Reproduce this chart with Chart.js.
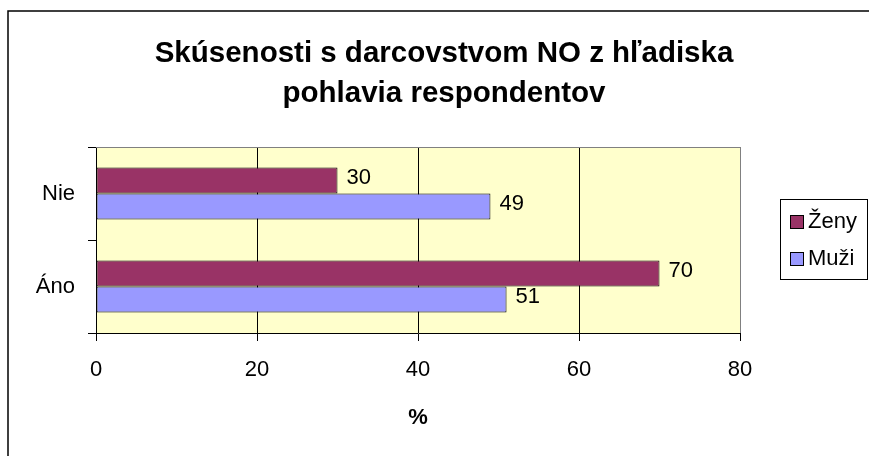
<!DOCTYPE html>
<html>
<head>
<meta charset="utf-8">
<script src="https://cdn.jsdelivr.net/npm/chart.js@4"></script>
<style>
  html, body { margin: 0; padding: 0; background: #fff; }
  #wrap { width: 869px; height: 456px; }
</style>
</head>
<body>
<div id="wrap"><canvas id="c" width="869" height="456"></canvas></div>
<script>
const categories = ['Nie', 'Áno'];
const seriesNames = ['Ženy', 'Muži'];
const zenyValues = [30, 70];
const muziValues = [49, 51];
const xTickValues = [0, 20, 40, 60, 80];
const titleLines = ['Skúsenosti s darcovstvom NO z hľadiska', 'pohlavia respondentov'];
const xAxisTitle = '%';

const FONT = "'Liberation Sans', Arial, sans-serif";
Chart.defaults.font.family = FONT;
Chart.defaults.color = '#000';

const bgPlugin = {
  id: 'bg',
  beforeDraw(chart) {
    const { ctx, chartArea: a } = chart;
    ctx.save();
    ctx.fillStyle = '#ffffff';
    ctx.fillRect(0, 0, chart.width, chart.height);
    ctx.fillStyle = '#FFFFCC';
    ctx.fillRect(a.left, a.top, a.right - a.left, a.bottom - a.top);
    ctx.restore();
  },
  afterDatasetsDraw(chart) {
    const { ctx, chartArea: a } = chart;
    ctx.save();
    // plot-area top border (gray)
    ctx.strokeStyle = '#808080';
    ctx.lineWidth = 1;
    ctx.beginPath();
    ctx.moveTo(a.left, Math.round(a.top) + 0.5);
    ctx.lineTo(a.right, Math.round(a.top) + 0.5);
    ctx.stroke();
    // data labels
    ctx.fillStyle = '#000';
    ctx.font = '22px ' + FONT;
    ctx.textAlign = 'left';
    ctx.textBaseline = 'middle';
    chart.data.datasets.forEach((ds, di) => {
      const meta = chart.getDatasetMeta(di);
      meta.data.forEach((el, i) => {
        ctx.fillText(String(ds.data[i]), el.x + 9, el.y - 3);
      });
    });
    ctx.restore();
  },
  afterDraw(chart) {
    const { ctx } = chart;
    ctx.save();
    // legend
    ctx.strokeStyle = '#000';
    ctx.lineWidth = 1;
    ctx.strokeRect(780.5, 199.5, 87, 80);
    ctx.font = '22px ' + FONT;
    ctx.textAlign = 'left';
    ctx.textBaseline = 'middle';
    const ys = [222, 259];
    chart.data.datasets.forEach((ds, di) => {
      const y = ys[di];
      ctx.fillStyle = ds.backgroundColor;
      ctx.fillRect(790.5, y - 6.5, 13, 13);
      ctx.strokeRect(790.5, y - 6.5, 13, 13);
      ctx.fillStyle = '#000';
      ctx.fillText(ds.label, 808, y);
    });
    // outer chart border (left & top)
    ctx.lineWidth = 1.5;
    ctx.beginPath();
    ctx.moveTo(8, chart.height);
    ctx.lineTo(8, 11);
    ctx.lineTo(chart.width, 11);
    ctx.stroke();
    ctx.restore();
  }
};

new Chart(document.getElementById('c'), {
  type: 'bar',
  data: {
    labels: categories,
    datasets: [
      { label: seriesNames[0], data: zenyValues, backgroundColor: '#993366', borderColor: '#000', borderWidth: 1, borderSkipped: false },
      { label: seriesNames[1], data: muziValues, backgroundColor: '#9999FF', borderColor: '#000', borderWidth: 1, borderSkipped: false }
    ]
  },
  options: {
    indexAxis: 'y',
    responsive: false,
    animation: false,
    devicePixelRatio: 1,
    categoryPercentage: 0.56,
    barPercentage: 1.0,
    layout: { padding: { left: 19, right: 0, top: 0, bottom: 0 } },
    plugins: {
      legend: { display: false },
      tooltip: { enabled: false },
      title: {
        display: true,
        text: titleLines,
        color: '#000',
        font: { size: 29.5, weight: 'bold', family: FONT, lineHeight: 40 / 29.5 },
        padding: { top: 34, bottom: 33 }
      }
    },
    scales: {
      x: {
        type: 'linear',
        position: 'bottom',
        min: 0,
        max: 80,
        afterBuildTicks(scale) { scale.ticks = xTickValues.map(v => ({ value: v })); },
        ticks: { font: { size: 22, family: FONT }, color: '#000', padding: 16 },
        grid: {
          color: (c) => (c.tick && c.tick.value === 80) ? '#808080' : '#000',
          tickColor: '#000',
          tickLength: 8,
          lineWidth: 1
        },
        border: { display: true, color: '#000', width: 1 },
        title: { display: true, text: xAxisTitle, font: { size: 22, weight: 'bold', family: FONT }, color: '#000', padding: { top: 0, bottom: 25 } },
        afterFit(scale) { scale.height = 123; }
      },
      y: {
        type: 'category',
        position: 'left',
        offset: true,
        ticks: { font: { size: 22, family: FONT }, color: '#000', padding: 13 },
        grid: { drawOnChartArea: false, drawTicks: true, tickLength: 8, offset: true, color: '#000' },
        border: { display: true, color: '#000', width: 1 },
        afterFit(scale) { scale.width = 77; }
      },
      spacer: {
        type: 'linear',
        position: 'right',
        display: true,
        grid: { display: false, drawTicks: false },
        border: { display: false },
        ticks: { display: false },
        afterFit(scale) { scale.width = 129; }
      }
    }
  },
  plugins: [bgPlugin]
});
</script>
</body>
</html>
